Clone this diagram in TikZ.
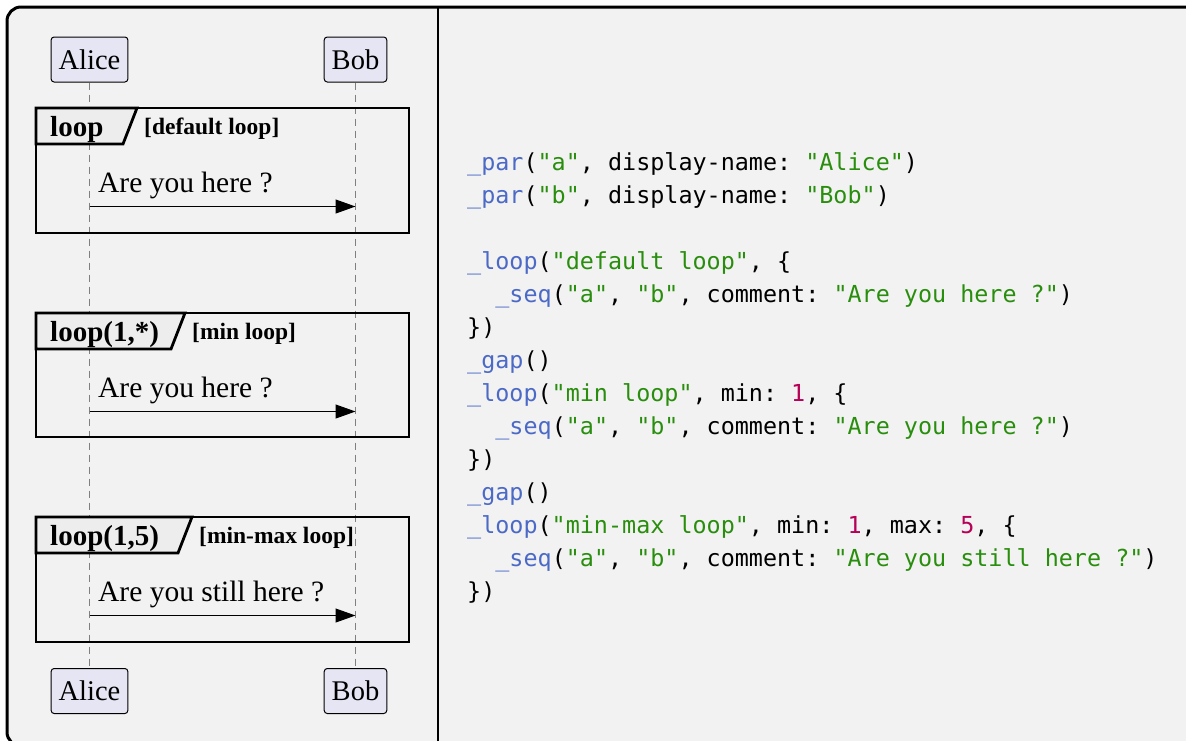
\documentclass[tikz,border=0pt]{standalone}
\usepackage{fontspec}
\setmainfont{Liberation Serif}
\setmonofont{DejaVu Sans Mono}
\usetikzlibrary{arrows.meta}

\definecolor{canvas}{HTML}{F2F2F2}
\definecolor{partfill}{HTML}{E5E5F4}
\definecolor{tabfill}{HTML}{EDEDED}
\definecolor{fnblue}{HTML}{4B69C6}
\definecolor{strgreen}{HTML}{298E0D}
\definecolor{numred}{HTML}{B60157}

\newcommand{\codefn}[1]{\textcolor{fnblue}{#1}}
\newcommand{\codestr}[1]{\textcolor{strgreen}{#1}}
\newcommand{\codenum}[1]{\textcolor{numred}{#1}}

\begin{document}
\begin{tikzpicture}[x=1pt,y=-1pt]
  \tikzstyle{part}=[draw, fill=partfill, rounded corners=3pt, line width=1pt, minimum height=45pt, inner xsep=7.5pt, font=\fontsize{28.5}{32}\selectfont]
  \tikzstyle{life}=[gray, line width=0.9pt, dash pattern=on 7pt off 5pt]
  \tikzstyle{frame}=[draw, line width=2.8pt]
  \tikzstyle{tab}=[draw, fill=tabfill, line width=2.8pt, line join=miter]
  \tikzstyle{kind}=[anchor=base west, inner sep=0pt, font=\bfseries\fontsize{29}{33}\selectfont]
  \tikzstyle{cond}=[anchor=base west, inner sep=0pt, font=\bfseries\fontsize{23.5}{27}\selectfont]
  \tikzstyle{msg}=[anchor=base west, inner sep=0pt, font=\fontsize{29.5}{33}\selectfont]
  \tikzstyle{call}=[-{Triangle[length=20pt,width=14pt]}, line width=1pt]
  \tikzstyle{code}=[anchor=base west, inner sep=0pt, font=\ttfamily\fontsize{23.4}{33}\selectfont]

  \clip (0,0) rectangle (1186,740);
  \draw[fill=canvas, line width=3pt, rounded corners=14pt] (7,7) rectangle (1200,746);
  \draw[line width=2.6pt] (438,7) -- (438,746);

  % participants and lifelines
  \node[part] (atop) at (89.5,59.5) {Alice};
  \node[part] (btop) at (355.5,59.5) {Bob};
  \node[part] (abot) at (89.5,691) {Alice};
  \node[part] (bbot) at (355.5,691) {Bob};
  \draw[life] (atop) -- (abot);
  \draw[life] (btop) -- (bbot);

  % loops
  \foreach \i/\top/\bot/\tx/\kindtext/\condtext/\msgtext in {
      1/108/233/137/{loop}/{[default loop]}/{Are you here ?},
      2/313/437/185/{loop(1,*)}/{[min loop]}/{Are you here ?},
      3/517/642/192/{loop(1,5)}/{[min-max loop]}/{Are you still here ?}} {
    \draw[frame] (36,\top) rectangle (409,\bot);
    \draw[tab] (36,\top) -- (\tx,\top) -- (\tx-14,\top+36) -- (36,\top+36) -- cycle;
    \node[kind] (k\i) at (50,\top+28) {\kindtext};
    \node[cond] (c\i) at (\tx+7,\top+26) {\condtext};
    \node[msg] (m\i) at (98,\top+84) {\msgtext};
    \coordinate (s\i) at (89.5,\top+98.5);
    \coordinate (e\i) at (355.5,\top+98.5);
    \draw[call] (s\i) -- (e\i);
  }

  % source
  \node[code] (l1) at (467,170) {\codefn{\_par}(\codestr{"a"}, display-name: \codestr{"Alice"})};
  \node[code] (l2) at (467,203) {\codefn{\_par}(\codestr{"b"}, display-name: \codestr{"Bob"})};
  \node[code] (l3) at (467,269) {\codefn{\_loop}(\codestr{"default loop"}, \{};
  \node[code] (l4) at (495.2,302) {\codefn{\_seq}(\codestr{"a"}, \codestr{"b"}, comment: \codestr{"Are you here ?"})};
  \node[code] (l5) at (467,335) {\})};
  \node[code] (l6) at (467,368) {\codefn{\_gap}()};
  \node[code] (l7) at (467,401) {\codefn{\_loop}(\codestr{"min loop"}, min: \codenum{1}, \{};
  \node[code] (l8) at (495.2,434) {\codefn{\_seq}(\codestr{"a"}, \codestr{"b"}, comment: \codestr{"Are you here ?"})};
  \node[code] (l9) at (467,467) {\})};
  \node[code] (l10) at (467,500) {\codefn{\_gap}()};
  \node[code] (l11) at (467,533) {\codefn{\_loop}(\codestr{"min-max loop"}, min: \codenum{1}, max: \codenum{5}, \{};
  \node[code] (l12) at (495.2,566) {\codefn{\_seq}(\codestr{"a"}, \codestr{"b"}, comment: \codestr{"Are you still here ?"})};
  \node[code] (l13) at (467,599) {\})};
\end{tikzpicture}
\end{document}
